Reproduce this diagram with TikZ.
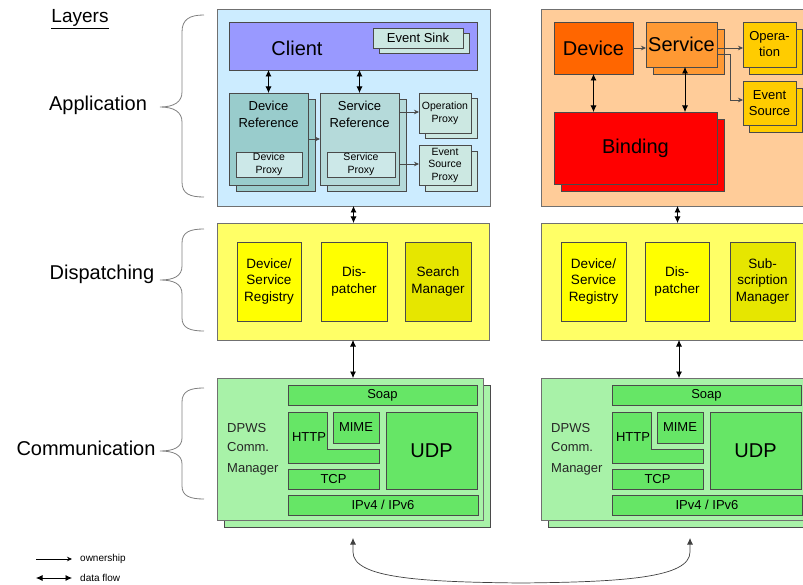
\documentclass[tikz,border=0pt]{standalone}
\usepackage{fontspec}
\setmainfont{Liberation Sans}
\usetikzlibrary{arrows.meta,shadows,calc}

\definecolor{appblue}{HTML}{CCECFF}
\definecolor{clientc}{HTML}{9999FF}
\definecolor{proxyc}{HTML}{CCE8E2}
\definecolor{devrefc}{HTML}{99CCCC}
\definecolor{srvrefc}{HTML}{B5DADA}
\definecolor{innerc}{HTML}{CCE8E8}
\definecolor{apporange}{HTML}{FFCC99}
\definecolor{devc}{HTML}{FF6600}
\definecolor{srvc}{HTML}{FF9933}
\definecolor{opc}{HTML}{FFCC00}
\definecolor{bindc}{HTML}{FF0000}
\definecolor{dispc}{HTML}{FFFF66}
\definecolor{regc}{HTML}{FFFF00}
\definecolor{mgrc}{HTML}{E6E600}
\definecolor{commc}{HTML}{A8F2A8}
\definecolor{protoc}{HTML}{66E666}
\definecolor{edge}{HTML}{4A4A4A}
\definecolor{outeredge}{HTML}{707070}
\definecolor{bracec}{HTML}{808080}

\newcommand\fs[2]{\fontsize{#1}{#2}\selectfont}

\tikzset{
  box/.style={draw=edge, line width=0.6pt, rectangle, inner sep=0pt, outer sep=0pt, align=center},
  layerbox/.style={box, draw=outeredge, line width=0.8pt},
  stacked/.style n args={3}{copy shadow={shadow xshift=#1pt, shadow yshift=-#2pt, fill=#3, draw=edge}},
  txt/.style={inner sep=0pt, align=center},
  flow/.style={{Latex[length=6.5pt,width=6pt]}-{Latex[length=6.5pt,width=6pt]}, draw=black, line width=0.7pt},
  own/.style={-{Stealth[length=5pt,width=4.5pt]}, draw=edge, line width=0.6pt},
  bracepath/.style={draw=bracec, line width=0.8pt},
}

\begin{document}
\begin{tikzpicture}[x=1pt,y=-1pt]
\useasboundingbox (0,0) rectangle (803,585);

% ---------- layer labels and braces ----------
\node[txt, font=\fs{19}{22}] (lyr) at (80,19) {\underline{Layers}};
\node[txt, font=\fs{20}{24}] (lapp) at (98,105) {Application};
\node[txt, font=\fs{20}{24}] (ldisp) at (102,274) {Dispatching};
\node[txt, font=\fs{20}{24}] (lcomm) at (86,448) {Communication};

\draw[bracepath] (204,15) .. controls (190,15) and (182,19) .. (182,32) -- (182,92)
  .. controls (182,102) and (174,107) .. (160,107)
  .. controls (174,107) and (182,112) .. (182,122) -- (182,182)
  .. controls (182,194) and (190,197) .. (204,197);
\draw[bracepath] (204,229) .. controls (190,229) and (182,232) .. (182,243) -- (182,266)
  .. controls (182,276) and (174,280) .. (160,280)
  .. controls (174,280) and (182,284) .. (182,294) -- (182,318)
  .. controls (182,328) and (190,331) .. (204,331);
\draw[bracepath] (204,388) .. controls (190,388) and (182,391) .. (182,402) -- (182,438)
  .. controls (182,447) and (174,451) .. (160,451)
  .. controls (174,451) and (182,455) .. (182,464) -- (182,486)
  .. controls (182,496) and (190,499) .. (204,499);

% ---------- client side: application ----------
\node[layerbox, fill=appblue, minimum width=273, minimum height=197] (appL) at (353.5,107.5) {};
\node[box, fill=clientc, minimum width=248, minimum height=48] (client) at (353,46) {};
\node[txt, font=\fs{20}{24}] (clientT) at (297,48) {Client};
\node[box, fill=proxyc, stacked={6}{5}{proxyc}, minimum width=90, minimum height=20, font=\fs{13}{15}] (evsink) at (418,38) {Event Sink};

\node[box, fill=devrefc, stacked={7}{6}{devrefc}, minimum width=79, minimum height=92] (devref) at (268.5,139) {};
\node[txt, font=\fs{13}{17}] (devrefT) at (268.5,114) {Device\\Reference};
\node[box, fill=innerc, minimum width=66, minimum height=25, font=\fs{10.5}{12.5}] (devproxy) at (269,164.5) {Device\\Proxy};

\node[box, fill=srvrefc, stacked={7}{6}{srvrefc}, minimum width=79, minimum height=92] (srvref) at (359.5,139) {};
\node[txt, font=\fs{13}{17}] (srvrefT) at (359.5,114) {Service\\Reference};
\node[box, fill=innerc, minimum width=68, minimum height=25, font=\fs{10.5}{12.5}] (srvproxy) at (361,164.5) {Service\\Proxy};

\node[box, fill=proxyc, stacked={6}{5}{proxyc}, minimum width=52, minimum height=40, font=\fs{10.5}{13}] (opproxy) at (445,113) {Operation\\Proxy};
\node[box, fill=proxyc, stacked={6}{6}{proxyc}, minimum width=52, minimum height=40, font=\fs{10.5}{12.5}] (esproxy) at (445,165) {Event\\Source\\Proxy};

\draw[flow] (client.south -| devref) -- (devref.north);
\draw[flow] (client.south -| srvref) -- (srvref.north);
\draw[own] (devref.east |- 0,139) -- (srvref.west |- 0,139);
\draw[own] (srvref.east |- 0,112) -- (opproxy.west |- 0,112);
\draw[own] (srvref.east |- 0,164) -- (esproxy.west |- 0,164);

% ---------- device side: application ----------
\node[layerbox, fill=apporange, minimum width=273, minimum height=197] (appR) at (677.5,107.5) {};
\node[box, fill=devc, minimum width=79, minimum height=52, font=\fs{20}{24}] (device) at (593.5,48) {Device};
\node[box, fill=srvc, stacked={7}{7}{srvc}, minimum width=71, minimum height=45, font=\fs{20}{24}] (service) at (681.5,44.5) {Service};
\node[box, fill=opc, stacked={6}{7}{opc}, minimum width=53, minimum height=45, font=\fs{13}{16}] (operation) at (769.5,44.5) {Opera-\\tion};
\node[box, fill=opc, stacked={6}{7}{opc}, minimum width=53, minimum height=44, font=\fs{13}{16}] (evsource) at (769.5,103) {Event\\Source};
\node[box, fill=bindc, stacked={7}{7}{bindc}, minimum width=163, minimum height=72, font=\fs{20}{24}] (binding) at (635.5,148) {Binding};

\draw[own] (device.east |- 0,48) -- (service.west |- 0,48);
\draw[own] (service.east |- 0,48) -- (operation.west |- 0,48);
\draw[own] (service.east |- 0,54) -| ($(evsource.west)+(-13,-3)$) -- ($(evsource.west)+(0,-3)$);
\draw[flow] (device.south) -- (binding.north -| device);
\draw[flow] (service.south -| 685,0) -- (binding.north -| 685,0);

% ---------- dispatching layers ----------
\node[layerbox, fill=dispc, minimum width=272, minimum height=117] (dispL) at (353,281.5) {};
\node[box, fill=regc, minimum width=64, minimum height=79, font=\fs{13.5}{16.5}] (regL) at (269,281.5) {Device/\\Service\\Registry};
\node[box, fill=regc, minimum width=66, minimum height=79, font=\fs{13.5}{16.5}] (dispatcherL) at (354,281.5) {Dis-\\patcher};
\node[box, fill=mgrc, minimum width=66, minimum height=79, font=\fs{13.5}{16.5}] (searchL) at (438,281.5) {Search\\Manager};

\node[layerbox, fill=dispc, minimum width=272, minimum height=117] (dispR) at (677,281.5) {};
\node[box, fill=regc, minimum width=65, minimum height=79, font=\fs{13.5}{16.5}] (regR) at (593.5,281.5) {Device/\\Service\\Registry};
\node[box, fill=regc, minimum width=64, minimum height=79, font=\fs{13.5}{16.5}] (dispatcherR) at (677,281.5) {Dis-\\patcher};
\node[box, fill=mgrc, minimum width=65, minimum height=79, font=\fs{13.5}{16.5}] (subR) at (762.5,281.5) {Sub-\\scription\\Manager};

\draw[flow] (appL.south) -- (dispL.north -| appL);
\draw[flow] (appR.south) -- (dispR.north -| appR);

% ---------- communication layers ----------
\node[layerbox, fill=commc, stacked={7}{7}{commc}, minimum width=266, minimum height=142] (commL) at (350,449) {};
\node[txt, font=\fs{13}{19}, align=left, anchor=west, text=black!85] (dpwsL) at (227,449) {DPWS\\Comm.\\[2pt]Manager};
\node[box, fill=protoc, minimum width=189, minimum height=20, font=\fs{13}{15}] (soapL) at (382.5,395) {Soap};
\draw[box, fill=protoc] (288,412) -- (327,412) -- (327,449) -- (379,449) -- (379,463) -- (288,463) -- cycle;
\node[txt, font=\fs{13}{15}] (httpL) at (309,437) {HTTP};
\node[box, fill=protoc, minimum width=46, minimum height=31, font=\fs{13}{15}] (mimeL) at (356,427.5) {MIME};
\node[box, fill=protoc, minimum width=91, minimum height=20, font=\fs{13}{15}] (tcpL) at (333.5,479) {TCP};
\node[box, fill=protoc, minimum width=91, minimum height=77, font=\fs{20}{24}] (udpL) at (431.5,450.5) {UDP};
\node[box, fill=protoc, minimum width=190, minimum height=20, font=\fs{13}{15}] (ipL) at (383,505) {IPv4 / IPv6};

\begin{scope}[xshift=324pt]
\node[layerbox, fill=commc, stacked={7}{7}{commc}, minimum width=266, minimum height=142] (commR) at (350,449) {};
\node[txt, font=\fs{13}{19}, align=left, anchor=west, text=black!85] (dpwsR) at (227,449) {DPWS\\Comm.\\[2pt]Manager};
\node[box, fill=protoc, minimum width=189, minimum height=20, font=\fs{13}{15}] (soapR) at (382.5,395) {Soap};
\draw[box, fill=protoc] (288,412) -- (327,412) -- (327,449) -- (379,449) -- (379,463) -- (288,463) -- cycle;
\node[txt, font=\fs{13}{15}] (httpR) at (309,437) {HTTP};
\node[box, fill=protoc, minimum width=46, minimum height=31, font=\fs{13}{15}] (mimeR) at (356,427.5) {MIME};
\node[box, fill=protoc, minimum width=91, minimum height=20, font=\fs{13}{15}] (tcpR) at (333.5,479) {TCP};
\node[box, fill=protoc, minimum width=91, minimum height=77, font=\fs{20}{24}] (udpR) at (431.5,450.5) {UDP};
\node[box, fill=protoc, minimum width=190, minimum height=20, font=\fs{13}{15}] (ipR) at (383,505) {IPv4 / IPv6};
\end{scope}

\draw[flow] (dispL.south -| 353,0) -- (commL.north -| 353,0);
\draw[flow] (dispR.south -| 679,0) -- (commR.north -| 679,0);

% ---------- network link between the two stacks ----------
\coordinate (netL) at (353,538);
\coordinate (netR) at (690,538);
\draw[flow, draw=black!75] (netL) -- (353,552) .. controls (353,578) and (420,582) .. (521,583)
  .. controls (622,582) and (690,578) .. (690,552) -- (netR);

% ---------- legend ----------
\coordinate (ownA) at (36,559);
\coordinate (ownB) at (72,559);
\coordinate (flowA) at (36,578);
\coordinate (flowB) at (72,578);
\draw[own, draw=black] (ownA) -- (ownB);
\draw[flow] (flowA) -- (flowB);
\node[txt, anchor=west, font=\fs{10}{12}] (ownT) at (80,559) {ownership};
\node[txt, anchor=west, font=\fs{10}{12}] (flowT) at (80,578) {data flow};
\end{tikzpicture}
\end{document}
